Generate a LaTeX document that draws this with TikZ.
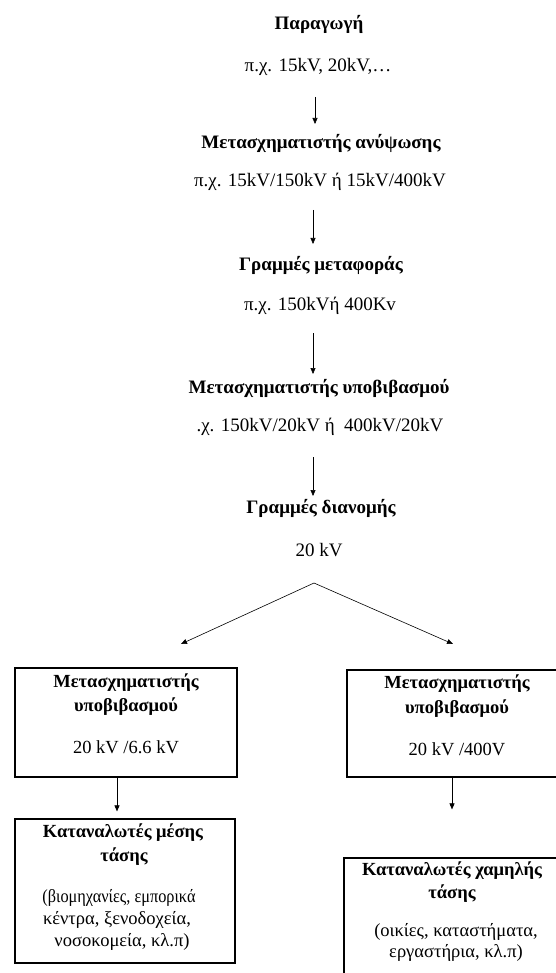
\documentclass[tikz,border=0pt]{standalone}
\usepackage{fontspec}
\usepackage{graphicx}
\setmainfont{Liberation Serif}
\usetikzlibrary{arrows.meta}
\begin{document}
\begin{tikzpicture}[x=1pt,y=-1pt,
  lbl/.style={inner sep=0pt,font=\fontsize{19}{22}\selectfont},
  hd/.style={inner sep=0pt,font=\fontsize{19}{22}\selectfont\bfseries},
  blbl/.style={inner sep=0pt,font=\fontsize{18.5}{22}\selectfont},
  bhd/.style={inner sep=0pt,font=\fontsize{18.5}{22}\selectfont\bfseries},
  box/.style={draw,line width=1.2pt,inner sep=0pt},
  arr/.style={-{Triangle[length=6pt,width=5pt]},line width=0.6pt}]
\clip (0,0) rectangle (556,973);
\fill[white] (0,0) rectangle (556,973);
% main column
\node[hd]  (t1) at (319,24) {Παραγωγή};
\node[lbl] (v1) at (318,67) {π.χ. 15kV, 20kV,…};
\node[hd]  (t2) at (321,143) {Μετασχηματιστής ανύψωσης};
\node[lbl] (v2) at (320,182) {π.χ. 15kV/150kV ή 15kV/400kV};
\node[hd]  (t3) at (321,265) {Γραμμές μεταφοράς};
\node[lbl] (v3) at (320,306) {π.χ. 150kVή 400Kv};
\node[hd]  (t4) at (319,388) {Μετασχηματιστής υποβιβασμού};
\node[lbl] (v4) at (320,427) {.χ. 150kV/20kV ή\ \ 400kV/20kV};
\node[hd]  (t5) at (321,508) {Γραμμές διανομής};
\node[lbl] (v5) at (319,550) {20 kV};
% arrow coordinates
\coordinate (a1s) at (315,97);  \coordinate (a1e) at (315,124);
\coordinate (a2s) at (313,210); \coordinate (a2e) at (313,244);
\coordinate (a3s) at (313,333); \coordinate (a3e) at (313,374);
\coordinate (a4s) at (313,457); \coordinate (a4e) at (313,496);
\draw[arr] (a1s) -- (a1e);
\draw[arr] (a2s) -- (a2e);
\draw[arr] (a3s) -- (a3e);
\draw[arr] (a4s) -- (a4e);
% branch
\coordinate (apex) at (314,583);
\coordinate (lt) at (181,644);
\coordinate (rt) at (453,644);
\draw[arr] (apex) -- (lt);
\draw[arr] (apex) -- (rt);
% boxes
\node[box,minimum width=222pt,minimum height=109pt] (b1) at (126,722.5) {};
\node[box,minimum width=223pt,minimum height=107pt] (b2) at (458.5,723.5) {};
\node[box,minimum width=220pt,minimum height=144pt] (b3) at (125,891) {};
\node[box,minimum width=226pt,minimum height=132pt] (b4) at (457,924) {};
% box texts
\node[bhd]  (b1a) at (126,683) {Μετασχηματιστής};
\node[bhd]  (b1b) at (126,707) {υποβιβασμού};
\node[blbl] (b1c) at (126,747) {20 kV /6.6 kV};
\node[bhd]  (b2a) at (457,684) {Μετασχηματιστής};
\node[bhd]  (b2b) at (457,709) {υποβιβασμού};
\node[blbl] (b2c) at (457,749) {20 kV /400V};
\node[bhd]  (b3a) at (123,833) {Καταναλωτές μέσης};
\node[bhd]  (b3b) at (124,857) {τάσης};
\node[blbl] (b3c) at (119,898) {\scalebox{0.88}[1]{(βιομηχανίες, εμπορικά}};
\node[blbl] (b3d) at (117,920) {κέντρα, ξενοδοχεία,};
\node[blbl] (b3e) at (122,942) {νοσοκομεία, κλ.π)};
\node[bhd]  (b4a) at (452,871) {Καταναλωτές χαμηλής};
\node[bhd]  (b4b) at (452,894) {τάσης};
\node[blbl] (b4c) at (456,932) {(οικίες, καταστήματα,};
\node[blbl] (b4d) at (456,953) {εργαστήρια, κλ.π)};
% box arrows
\draw[arr] (b1.south -| 117,0) -- ([yshift=7pt]b3.north -| 117,0);
\draw[arr] (b2.south -| 452,0) -- ([yshift=48pt]b4.north -| 452,0);
\end{tikzpicture}
\end{document}
